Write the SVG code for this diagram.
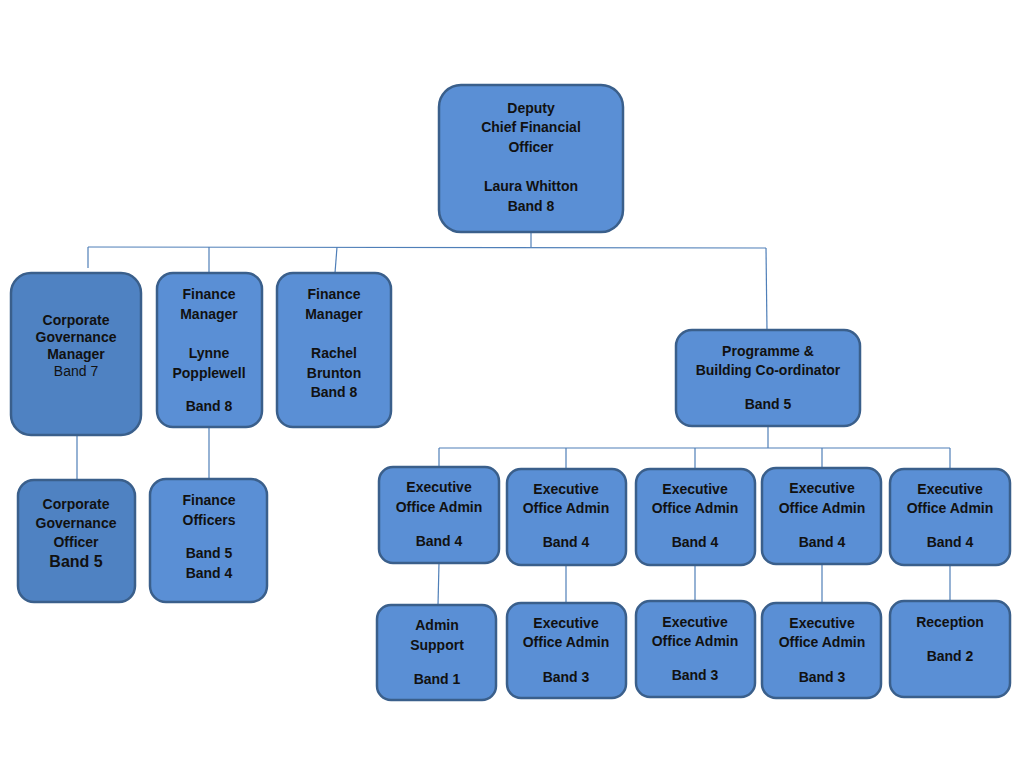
<svg xmlns="http://www.w3.org/2000/svg" width="1024" height="768" viewBox="0 0 1024 768">
<style>
.b{fill:#5A8FD5;stroke:#3A5F8B;stroke-width:2.5}
.d{fill:#4F82C2;stroke:#3A5F8B;stroke-width:2.5}
text{font-family:"Liberation Sans",Arial,sans-serif;font-size:14px;font-weight:bold;fill:#111;text-anchor:middle}
.n{font-weight:normal}
.l{font-size:16px}
.c line{stroke:#4F7FB8;stroke-width:1.2}
</style>
<rect width="1024" height="768" fill="#fff"/>
<g class="c" id="connectors">
<line x1="531" y1="232" x2="531" y2="247"/>
<line x1="88" y1="247" x2="766" y2="248"/>
<line x1="88" y1="247" x2="88" y2="268"/>
<line x1="209" y1="247" x2="209" y2="273"/>
<line x1="337" y1="247" x2="335" y2="273"/>
<line x1="766" y1="248" x2="767" y2="331"/>
<line x1="77" y1="435" x2="77" y2="480"/>
<line x1="209" y1="427" x2="209" y2="479"/>
<line x1="768" y1="426" x2="768" y2="448"/>
<line x1="439" y1="448" x2="950" y2="448"/>
<line x1="439" y1="448" x2="439" y2="467"/>
<line x1="566" y1="448" x2="566" y2="469"/>
<line x1="695" y1="448" x2="695" y2="469"/>
<line x1="822" y1="448" x2="822" y2="468"/>
<line x1="950" y1="448" x2="950" y2="469"/>
<line x1="439" y1="563" x2="438" y2="605"/>
<line x1="566" y1="565" x2="566" y2="603"/>
<line x1="695" y1="565" x2="695" y2="601"/>
<line x1="822" y1="564" x2="822" y2="603"/>
<line x1="950" y1="565" x2="950" y2="601"/>
</g>
<g id="dcfo">
<rect class="b" x="439" y="85" width="184" height="147" rx="22"/>
<text x="531" y="113">Deputy</text>
<text x="531" y="132">Chief Financial</text>
<text x="531" y="152">Officer</text>
<text x="531" y="191">Laura Whitton</text>
<text x="531" y="211">Band 8</text>
</g>
<g id="cgm">
<rect class="d" x="11" y="273" width="130" height="162" rx="20"/>
<text x="76" y="325">Corporate</text>
<text x="76" y="342">Governance</text>
<text x="76" y="359">Manager</text>
<text x="76" y="376" class="n">Band 7</text>
</g>
<g id="fm-lynne">
<rect class="b" x="157" y="273" width="105" height="154" rx="16"/>
<text x="209" y="299">Finance</text>
<text x="209" y="319">Manager</text>
<text x="209" y="358">Lynne</text>
<text x="209" y="378">Popplewell</text>
<text x="209" y="411">Band 8</text>
</g>
<g id="fm-rachel">
<rect class="b" x="277" y="273" width="114" height="154" rx="16"/>
<text x="334" y="299">Finance</text>
<text x="334" y="319">Manager</text>
<text x="334" y="358">Rachel</text>
<text x="334" y="378">Brunton</text>
<text x="334" y="397">Band 8</text>
</g>
<g id="pbc">
<rect class="b" x="676" y="330" width="184" height="96" rx="16"/>
<text x="768" y="356">Programme &amp;</text>
<text x="768" y="375">Building Co-ordinator</text>
<text x="768" y="409">Band 5</text>
</g>
<g id="cgo">
<rect class="d" x="18" y="480" width="117" height="122" rx="16"/>
<text x="76" y="509">Corporate</text>
<text x="76" y="528">Governance</text>
<text x="76" y="547">Officer</text>
<text x="76" y="567" class="l">Band 5</text>
</g>
<g id="fo">
<rect class="b" x="150" y="479" width="117" height="123" rx="16"/>
<text x="209" y="505">Finance</text>
<text x="209" y="525">Officers</text>
<text x="209" y="558">Band 5</text>
<text x="209" y="578">Band 4</text>
</g>
<g id="eoa1">
<rect class="b" x="379" y="467" width="120" height="96" rx="14"/>
<text x="439" y="492">Executive</text>
<text x="439" y="512">Office Admin</text>
<text x="439" y="546">Band 4</text>
</g>
<g id="eoa2">
<rect class="b" x="507" y="469" width="119" height="96" rx="14"/>
<text x="566" y="494">Executive</text>
<text x="566" y="513">Office Admin</text>
<text x="566" y="547">Band 4</text>
</g>
<g id="eoa3">
<rect class="b" x="636" y="469" width="119" height="96" rx="14"/>
<text x="695" y="494">Executive</text>
<text x="695" y="513">Office Admin</text>
<text x="695" y="547">Band 4</text>
</g>
<g id="eoa4">
<rect class="b" x="762" y="468" width="119" height="96" rx="14"/>
<text x="822" y="493">Executive</text>
<text x="822" y="513">Office Admin</text>
<text x="822" y="547">Band 4</text>
</g>
<g id="eoa5">
<rect class="b" x="890" y="469" width="120" height="96" rx="14"/>
<text x="950" y="494">Executive</text>
<text x="950" y="513">Office Admin</text>
<text x="950" y="547">Band 4</text>
</g>
<g id="admin">
<rect class="b" x="377" y="605" width="119" height="95" rx="14"/>
<text x="437" y="630">Admin</text>
<text x="437" y="650">Support</text>
<text x="437" y="684">Band 1</text>
</g>
<g id="eoa6">
<rect class="b" x="507" y="603" width="119" height="95" rx="14"/>
<text x="566" y="628">Executive</text>
<text x="566" y="647">Office Admin</text>
<text x="566" y="682">Band 3</text>
</g>
<g id="eoa7">
<rect class="b" x="636" y="601" width="119" height="96" rx="14"/>
<text x="695" y="627">Executive</text>
<text x="695" y="646">Office Admin</text>
<text x="695" y="680">Band 3</text>
</g>
<g id="eoa8">
<rect class="b" x="762" y="603" width="119" height="95" rx="14"/>
<text x="822" y="628">Executive</text>
<text x="822" y="647">Office Admin</text>
<text x="822" y="682">Band 3</text>
</g>
<g id="reception">
<rect class="b" x="890" y="601" width="120" height="96" rx="14"/>
<text x="950" y="627">Reception</text>
<text x="950" y="661">Band 2</text>
</g>
</svg>
